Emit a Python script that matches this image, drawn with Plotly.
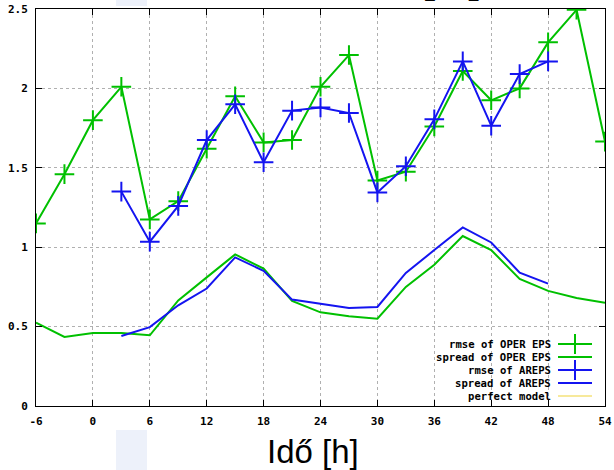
import plotly.graph_objects as go

# ---------------- data ----------------
hours_oper = [-6, -3, 0, 3, 6, 9, 12, 15, 18, 21, 24, 27, 30, 33, 36, 39, 42, 45, 48, 51, 54]
rmse_oper = [1.15, 1.46, 1.80, 2.01, 1.175, 1.29, 1.62, 1.95, 1.66, 1.675, 2.01,
             2.21, 1.42, 1.475, 1.76, 2.11, 1.925, 2.00, 2.29, 2.495, 1.665]
spread_oper = [0.525, 0.435, 0.46, 0.46, 0.445, 0.665, 0.81, 0.955, 0.865, 0.662, 0.59,
               0.565, 0.55, 0.75, 0.89, 1.07, 0.982, 0.80, 0.725, 0.68, 0.65]

hours_areps = [3, 6, 9, 12, 15, 18, 21, 24, 27, 30, 33, 36, 39, 42, 45, 48]
rmse_areps = [1.35, 1.035, 1.26, 1.675, 1.90, 1.535, 1.86, 1.88, 1.845, 1.345,
              1.51, 1.805, 2.17, 1.765, 2.09, 2.17]
spread_areps = [0.441, 0.497, 0.634, 0.74, 0.936, 0.851, 0.67, 0.642, 0.617, 0.624,
                0.838, 0.982, 1.125, 1.03, 0.84, 0.771]

x_ticks = [-6, 0, 6, 12, 18, 24, 30, 36, 42, 48, 54]
y_ticks = [0, 0.5, 1, 1.5, 2, 2.5]

legend_labels = ["rmse of OPER EPS", "spread of OPER EPS", "rmse of AREPS",
                 "spread of AREPS", "perfect model"]

GREEN = "#00c000"
BLUE = "#1414f0"
YELLOW = "#f5e27a"

# ---------------- layout helpers ----------------
W, H = 614, 470
L, R, T, B = 36, 605, 9, 406  # plot area in pixels


def px(xp):
    return (xp - L) / (R - L)


def py(yp):
    return (B - yp) / (B - T)


fig = go.Figure()

fig.add_trace(go.Scatter(x=hours_oper, y=spread_oper, mode="lines",
                         line=dict(color=GREEN, width=2), name=legend_labels[1]))
fig.add_trace(go.Scatter(x=hours_areps, y=spread_areps, mode="lines",
                         line=dict(color=BLUE, width=2), name=legend_labels[3]))
fig.add_trace(go.Scatter(x=hours_oper, y=rmse_oper, mode="lines+markers",
                         line=dict(color=GREEN, width=2),
                         marker=dict(symbol="cross-thin", size=14,
                                     line=dict(color=GREEN, width=2)),
                         name=legend_labels[0]))
fig.add_trace(go.Scatter(x=hours_areps, y=rmse_areps, mode="lines+markers",
                         line=dict(color=BLUE, width=2),
                         marker=dict(symbol="cross-thin", size=14,
                                     line=dict(color=BLUE, width=2)),
                         name=legend_labels[2]))

tickfont = dict(family="DejaVu Sans Mono", size=11, color="black", weight="bold")
axis_common = dict(showline=True, linecolor="black", linewidth=1, mirror="ticks",
                   ticks="inside", ticklen=6, tickcolor="black", tickwidth=1,
                   showgrid=True, gridcolor="#b0b0b0", gridwidth=1, griddash="dot",
                   zeroline=False, tickfont=tickfont, automargin=False)

fig.update_xaxes(range=[-6, 54], tickvals=x_ticks, ticktext=[str(v) for v in x_ticks],
                 ticklabelstandoff=5, **axis_common)
fig.update_yaxes(range=[0, 2.5], tickvals=y_ticks, ticktext=[f"{v:g}" for v in y_ticks],
                 ticklabelstandoff=5, **axis_common)

shapes = []
# opaque key box
shapes.append(dict(type="rect", xref="paper", yref="paper",
                   x0=px(420), x1=px(604), y0=py(405), y1=py(329),
                   fillcolor="white", line=dict(width=0), layer="between"))
# pale rectangles (slide artefacts)
for (y0, y1) in [(0, 6), (430, 470)]:
    shapes.append(dict(type="rect", xref="paper", yref="paper",
                       x0=px(116), x1=px(147), y0=py(y1), y1=py(y0),
                       fillcolor="#edf1fa", line=dict(width=0), layer="above"))

annotations = []
row_y = [344, 357, 370, 383, 396]
colors = [GREEN, GREEN, BLUE, BLUE, YELLOW]
for i, lab in enumerate(legend_labels):
    yy = row_y[i]
    annotations.append(dict(text=lab, xref="paper", yref="paper", x=px(553), y=py(yy),
                            xanchor="right", yanchor="middle", showarrow=False,
                            font=dict(family="DejaVu Sans Mono", size=10.6, color="black",
                                      weight="bold")))
    shapes.append(dict(type="line", xref="paper", yref="paper",
                       x0=px(558), x1=px(592), y0=py(yy), y1=py(yy),
                       line=dict(color=colors[i], width=2 if i < 4 else 1.5), layer="above"))
    if i in (0, 2):
        shapes.append(dict(type="line", xref="paper", yref="paper",
                           x0=px(575), x1=px(575), y0=py(yy - 10), y1=py(yy + 10),
                           line=dict(color=colors[i], width=2), layer="above"))

# x-axis title (slide text)
annotations.append(dict(text="Idő [h]", xref="paper", yref="paper", x=px(312.5), y=py(431),
                        xanchor="center", yanchor="top", showarrow=False,
                        font=dict(family="Liberation Sans Narrow, Liberation Sans, sans-serif",
                                  size=33, color="black")))
# cut-off title fragment at the top
annotations.append(dict(text="[m]", xref="paper", yref="paper", x=px(451.5), y=py(-42),
                        xanchor="center", yanchor="top", showarrow=False,
                        font=dict(family="Liberation Sans Narrow, Liberation Sans, sans-serif",
                                  size=37, color="black", weight="bold")))

fig.update_layout(width=W, height=H,
                  margin=dict(l=L, r=W - R, t=T, b=H - B, autoexpand=False),
                  paper_bgcolor="white", plot_bgcolor="white", showlegend=False,
                  shapes=shapes, annotations=annotations)

fig.write_html("out.html", config={"displayModeBar": False},
               post_script="document.body.style.margin='0';document.body.style.padding='0';")
